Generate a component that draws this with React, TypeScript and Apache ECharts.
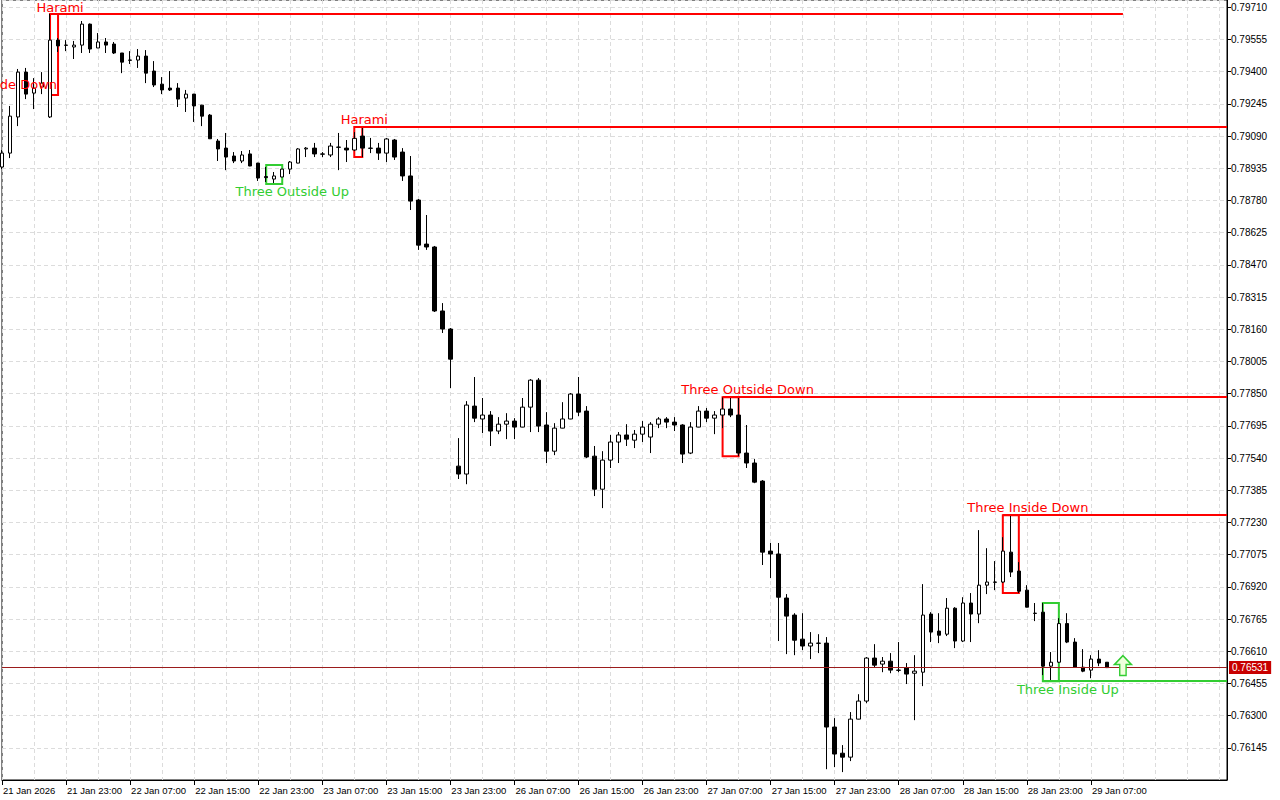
import React, { useEffect, useRef } from "react";
import * as echarts from "echarts";

// x-axis tick labels (every 8 hourly bars)
const tickLabels = [
  "21 Jan 2026", "21 Jan 23:00", "22 Jan 07:00", "22 Jan 15:00", "22 Jan 23:00",
  "23 Jan 07:00", "23 Jan 15:00", "23 Jan 23:00", "26 Jan 07:00", "26 Jan 15:00",
  "26 Jan 23:00", "27 Jan 07:00", "27 Jan 15:00", "27 Jan 23:00", "28 Jan 07:00",
  "28 Jan 15:00", "28 Jan 23:00", "29 Jan 07:00",
];
const slotCount = 154; // bar slots across the chart (incl. empty right margin)

// OHLC values of the hourly candles
const opens = [
  0.78941, 0.79008, 0.79182, 0.79398, 0.79297, 0.79326, 0.79182, 0.79552, 0.79528, 0.79519,
  0.79528, 0.79629, 0.79514, 0.79543, 0.79533, 0.79490, 0.79456, 0.79456, 0.79475, 0.79403,
  0.79340, 0.79321, 0.79321, 0.79273, 0.79292, 0.79239, 0.79191, 0.79066, 0.79032, 0.78994,
  0.78970, 0.79004, 0.78960, 0.78895, 0.78883, 0.78893, 0.78931, 0.78960, 0.79028, 0.79032,
  0.79004, 0.78999, 0.79037, 0.79032, 0.79023, 0.79090, 0.79032, 0.79032, 0.79008, 0.79071,
  0.79013, 0.78898, 0.78782, 0.78570, 0.78556, 0.78248, 0.78161, 0.77501, 0.77463, 0.77790,
  0.77728, 0.77747, 0.77670, 0.77703, 0.77718, 0.77689, 0.77785, 0.77915, 0.77699, 0.77573,
  0.77684, 0.77728, 0.77848, 0.77766, 0.77549, 0.77390, 0.77530, 0.77617, 0.77651, 0.77626,
  0.77655, 0.77641, 0.77703, 0.77728, 0.77713, 0.77699, 0.77564, 0.77689, 0.77766, 0.77732,
  0.77747, 0.77776, 0.77747, 0.77564, 0.77516, 0.77429, 0.77092, 0.77078, 0.76866, 0.76784,
  0.76668, 0.76635, 0.76649, 0.76649, 0.76245, 0.76119, 0.76100, 0.76283, 0.76370, 0.76577,
  0.76548, 0.76562, 0.76519, 0.76529, 0.76504, 0.76509, 0.76789, 0.76707, 0.76692, 0.76817,
  0.76659, 0.76842, 0.76789, 0.76928, 0.76943, 0.76943, 0.77087, 0.76996, 0.76904, 0.76793,
  0.76798, 0.76538, 0.76557, 0.76743, 0.76654, 0.76533, 0.76519, 0.76572, 0.76557,
];
const highs = [
  0.79023, 0.79235, 0.79413, 0.79418, 0.79369, 0.79398, 0.79678, 0.79562, 0.79552, 0.79548,
  0.79644, 0.79632, 0.79586, 0.79562, 0.79543, 0.79490, 0.79499, 0.79509, 0.79504, 0.79451,
  0.79374, 0.79403, 0.79345, 0.79312, 0.79293, 0.79240, 0.79196, 0.79076, 0.79105, 0.79013,
  0.79018, 0.79023, 0.78961, 0.78941, 0.78917, 0.78932, 0.78970, 0.79032, 0.79037, 0.79057,
  0.79013, 0.79057, 0.79105, 0.79071, 0.79109, 0.79134, 0.79081, 0.79057, 0.79081, 0.79076,
  0.79032, 0.78994, 0.78787, 0.78710, 0.78561, 0.78286, 0.78166, 0.77636, 0.77814, 0.77930,
  0.77829, 0.77766, 0.77737, 0.77756, 0.77732, 0.77829, 0.77920, 0.77925, 0.77761, 0.77708,
  0.77809, 0.77853, 0.77930, 0.77790, 0.77598, 0.77573, 0.77651, 0.77665, 0.77703, 0.77675,
  0.77718, 0.77713, 0.77737, 0.77737, 0.77737, 0.77703, 0.77713, 0.77790, 0.77781, 0.77766,
  0.77833, 0.77833, 0.77833, 0.77699, 0.77535, 0.77434, 0.77131, 0.77131, 0.76885, 0.76793,
  0.76793, 0.76702, 0.76692, 0.76678, 0.76288, 0.76158, 0.76317, 0.76403, 0.76582, 0.76644,
  0.76582, 0.76601, 0.76654, 0.76553, 0.76591, 0.76933, 0.76798, 0.76793, 0.76866, 0.76822,
  0.76870, 0.76890, 0.77193, 0.77106, 0.77044, 0.77159, 0.77265, 0.77039, 0.76928, 0.76842,
  0.76842, 0.76606, 0.76769, 0.76793, 0.76673, 0.76620, 0.76591, 0.76615, 0.76558,
];
const lows = [
  0.78931, 0.78984, 0.79138, 0.79268, 0.79220, 0.79292, 0.79177, 0.79495, 0.79499, 0.79461,
  0.79490, 0.79490, 0.79514, 0.79490, 0.79485, 0.79393, 0.79437, 0.79418, 0.79345, 0.79326,
  0.79292, 0.79307, 0.79230, 0.79206, 0.79158, 0.79138, 0.79076, 0.78970, 0.78926, 0.78960,
  0.78960, 0.78945, 0.78874, 0.78869, 0.78864, 0.78892, 0.78907, 0.78959, 0.78989, 0.78989,
  0.78989, 0.78989, 0.78926, 0.78965, 0.79018, 0.78989, 0.79008, 0.78975, 0.78965, 0.78975,
  0.78874, 0.78734, 0.78542, 0.78542, 0.78243, 0.78142, 0.77877, 0.77439, 0.77414, 0.77713,
  0.77660, 0.77598, 0.77655, 0.77631, 0.77631, 0.77688, 0.77665, 0.77665, 0.77516, 0.77554,
  0.77683, 0.77727, 0.77742, 0.77540, 0.77357, 0.77299, 0.77492, 0.77516, 0.77598, 0.77588,
  0.77617, 0.77564, 0.77684, 0.77684, 0.77670, 0.77516, 0.77559, 0.77688, 0.77713, 0.77655,
  0.77684, 0.77737, 0.77549, 0.77492, 0.77419, 0.77025, 0.76962, 0.76659, 0.76596, 0.76591,
  0.76615, 0.76572, 0.76601, 0.76042, 0.76052, 0.76028, 0.76081, 0.76282, 0.76360, 0.76533,
  0.76509, 0.76504, 0.76509, 0.76452, 0.76278, 0.76442, 0.76654, 0.76649, 0.76683, 0.76625,
  0.76654, 0.76654, 0.76745, 0.76885, 0.76904, 0.76938, 0.76967, 0.76890, 0.76821, 0.76755,
  0.76495, 0.76462, 0.76553, 0.76649, 0.76532, 0.76509, 0.76480, 0.76538, 0.76529,
];
const closes = [
  0.79008, 0.79186, 0.79398, 0.79292, 0.79321, 0.79345, 0.79552, 0.79524, 0.79527, 0.79528,
  0.79629, 0.79509, 0.79543, 0.79528, 0.79490, 0.79446, 0.79455, 0.79475, 0.79393, 0.79336,
  0.79312, 0.79312, 0.79268, 0.79292, 0.79235, 0.79186, 0.79077, 0.79028, 0.78989, 0.78970,
  0.78999, 0.78946, 0.78888, 0.78890, 0.78898, 0.78931, 0.78965, 0.79028, 0.79032, 0.79004,
  0.79003, 0.79042, 0.79036, 0.79023, 0.79079, 0.79032, 0.79031, 0.79008, 0.79076, 0.78989,
  0.78898, 0.78777, 0.78565, 0.78556, 0.78248, 0.78161, 0.78016, 0.77463, 0.77795, 0.77732,
  0.77747, 0.77670, 0.77703, 0.77718, 0.77689, 0.77785, 0.77915, 0.77694, 0.77573, 0.77684,
  0.77728, 0.77848, 0.77761, 0.77545, 0.77390, 0.77530, 0.77617, 0.77651, 0.77631, 0.77655,
  0.77689, 0.77703, 0.77728, 0.77713, 0.77699, 0.77559, 0.77689, 0.77766, 0.77732, 0.77747,
  0.77776, 0.77747, 0.77564, 0.77516, 0.77424, 0.77087, 0.77078, 0.76870, 0.76779, 0.76663,
  0.76635, 0.76649, 0.76648, 0.76245, 0.76115, 0.76100, 0.76283, 0.76370, 0.76577, 0.76543,
  0.76562, 0.76519, 0.76518, 0.76500, 0.76514, 0.76784, 0.76702, 0.76687, 0.76817, 0.76659,
  0.76842, 0.76789, 0.76928, 0.76943, 0.76942, 0.77092, 0.76991, 0.76899, 0.76822, 0.76792,
  0.76538, 0.76557, 0.76743, 0.76654, 0.76533, 0.76514, 0.76572, 0.76553, 0.76531,
];

// y-axis ticks
const yTickStart = 0.7599;
const yTickStep = 0.00155;
const yTop = 0.797451;
const lastPrice = 0.76531;

// candlestick pattern annotations: box from startIdx to endIdx, top/bottom prices
const RED = "#ff0000";
const GREEN = "#32cd32";
const patternBoxes = [
  { start: 6, end: 7, top: 0.79678, bottom: 0.79288, color: RED },
  { start: 44, end: 45, top: 0.79134, bottom: 0.78989, color: RED },
  { start: 33, end: 35, top: 0.78951, bottom: 0.78859, color: GREEN },
  { start: 90, end: 92, top: 0.77833, bottom: 0.77549, color: RED },
  { start: 125, end: 127, top: 0.77265, bottom: 0.7689, color: RED },
  { start: 130, end: 132, top: 0.76842, bottom: 0.76466, color: GREEN },
];
const patternLines = [
  { start: 6, end: 140, price: 0.79678, color: RED },
  { start: 44, end: 153, price: 0.79134, color: RED },
  { start: 90, end: 153, price: 0.77833, color: RED },
  { start: 125, end: 153, price: 0.77265, color: RED },
  { start: 130, end: 153, price: 0.76466, color: GREEN },
];
const patternLabels = [
  { text: "Harami", idx: 7, price: 0.79711, dx: 2, color: RED, align: "center" },
  { text: "de Down", idx: 7, price: 0.7934, dx: -1, color: RED, align: "right" },
  { text: "Harami", idx: 45, price: 0.79172, dx: 2, color: RED, align: "center" },
  { text: "Three Outside Up", idx: 36, price: 0.78821, dx: 2, color: GREEN, align: "center" },
  { text: "Three Outside Down", idx: 93, price: 0.77872, dx: 1, color: RED, align: "center" },
  { text: "Three Inside Down", idx: 128, price: 0.77304, dx: 1, color: RED, align: "center" },
  { text: "Three Inside Up", idx: 133, price: 0.76428, dx: 1, color: GREEN, align: "center" },
];
const signalArrow = { idx: 140, price: 0.76541 };

const AXIS_FONT = "Liberation Sans";

export default function App() {
  const ref = useRef<HTMLDivElement>(null);
  useEffect(() => {
    if (!ref.current) return;
    const chart = echarts.init(ref.current, null, { renderer: "svg" });
    const cats = Array.from({ length: slotCount }, (_, i) =>
      i % 8 === 0 && i / 8 < tickLabels.length ? tickLabels[i / 8] : ""
    );
    const ohlc = opens.map((o, i) => [o, closes[i], lows[i], highs[i]]);
    const gridLine = { color: "#dcdcdc", width: 1, type: [4, 3] as any };

    const option: any = {
      animation: false,
      backgroundColor: "#ffffff",
      grid: {
        left: 2,
        right: 53,
        top: 0,
        bottom: 20,
        show: true,
        borderColor: "#000000",
        borderWidth: 1,
        backgroundColor: "#ffffff",
        containLabel: false,
        outerBoundsMode: "none",
      },
      xAxis: {
        type: "category",
        data: cats,
        boundaryGap: false,
        axisLine: { show: true, lineStyle: { color: "#000", width: 1 } },
        axisTick: {
          show: true,
          length: 5,
          interval: (_i: number, v: string) => v !== "",
          lineStyle: { color: "#000" },
        },
        axisLabel: {
          interval: (_i: number, v: string) => v !== "",
          align: "left",
          color: "#000",
          fontFamily: AXIS_FONT,
          fontSize: 9.5,
          margin: 5,
          padding: [0, 0, 0, 1],
        },
        splitLine: { show: true, interval: 3, lineStyle: gridLine },
      },
      yAxis: {
        type: "value",
        position: "right",
        min: yTickStart,
        max: yTop,
        interval: yTickStep,
        axisLine: { show: true, lineStyle: { color: "#000", width: 1 } },
        axisTick: { show: true, length: 4, lineStyle: { color: "#000" } },
        axisLabel: {
          formatter: (v: number) => v.toFixed(5),
          color: "#000",
          fontFamily: AXIS_FONT,
          fontSize: 10,
          margin: 4,
          showMinLabel: false,
          showMaxLabel: false,
        },
        splitLine: { show: true, lineStyle: gridLine },
      },
      series: [
        {
          type: "candlestick",
          data: ohlc,
          barWidth: 4,
          clip: true,
          itemStyle: {
            color: "#ffffff",
            color0: "#000000",
            borderColor: "#000000",
            borderColor0: "#000000",
            borderColorDoji: "#000000",
            borderWidth: 1,
          },
          markArea: {
            silent: true,
            label: { show: false },
            data: patternBoxes.map((b) => [
              {
                coord: [b.start, b.top],
                itemStyle: { color: "rgba(0,0,0,0)", borderColor: b.color, borderWidth: 2 },
              },
              { coord: [b.end, b.bottom] },
            ]),
          },
          markLine: {
            silent: true,
            symbol: ["none", "none"],
            label: { show: false },
            data: [
              ...patternLines.map((l) => [
                {
                  coord: [l.start, l.price],
                  lineStyle: { color: l.color, width: 2, type: "solid" },
                },
                { coord: [l.end, l.price] },
              ]),
              [
                {
                  coord: [0, lastPrice],
                  lineStyle: { color: "#9b1c1c", width: 1, type: "solid" },
                  label: {
                    show: true,
                    position: "end",
                    formatter: lastPrice.toFixed(5),
                    color: "#ffffff",
                    backgroundColor: "#c80000",
                    fontFamily: AXIS_FONT,
                    fontSize: 10,
                    padding: [2, 3, 1, 3],
                    distance: 2,
                  },
                },
                { coord: [slotCount - 1, lastPrice] },
              ],
            ],
          },
          markPoint: {
            silent: true,
            label: { show: false },
            data: [
              {
                coord: [signalArrow.idx, signalArrow.price],
                symbol: "path://M8,0 L16,9 L11,9 L11,20 L5,20 L5,9 L0,9 Z",
                symbolSize: [17, 20],
                itemStyle: { color: "#efffdc", borderColor: GREEN, borderWidth: 1.5 },
              },
            ],
          },
        },
      ],
    };
    chart.setOption(option);

    const graphics = patternLabels.map((l) => {
      const p = chart.convertToPixel({ gridIndex: 0 }, [l.idx, l.price]) as number[];
      return {
        type: "text",
        x: p[0] + l.dx,
        y: p[1],
        z: 20,
        silent: true,
        style: {
          text: l.text,
          fill: l.color,
          fontFamily: "DejaVu Sans",
          fontSize: 13,
          align: l.align,
          verticalAlign: "middle",
        },
      };
    });
    chart.setOption({ graphic: graphics });

    return () => chart.dispose();
  }, []);

  return (
    <div
      ref={ref}
      style={{ position: "fixed", left: 0, top: 0, width: 1280, height: 800, background: "#fff" }}
    />
  );
}
